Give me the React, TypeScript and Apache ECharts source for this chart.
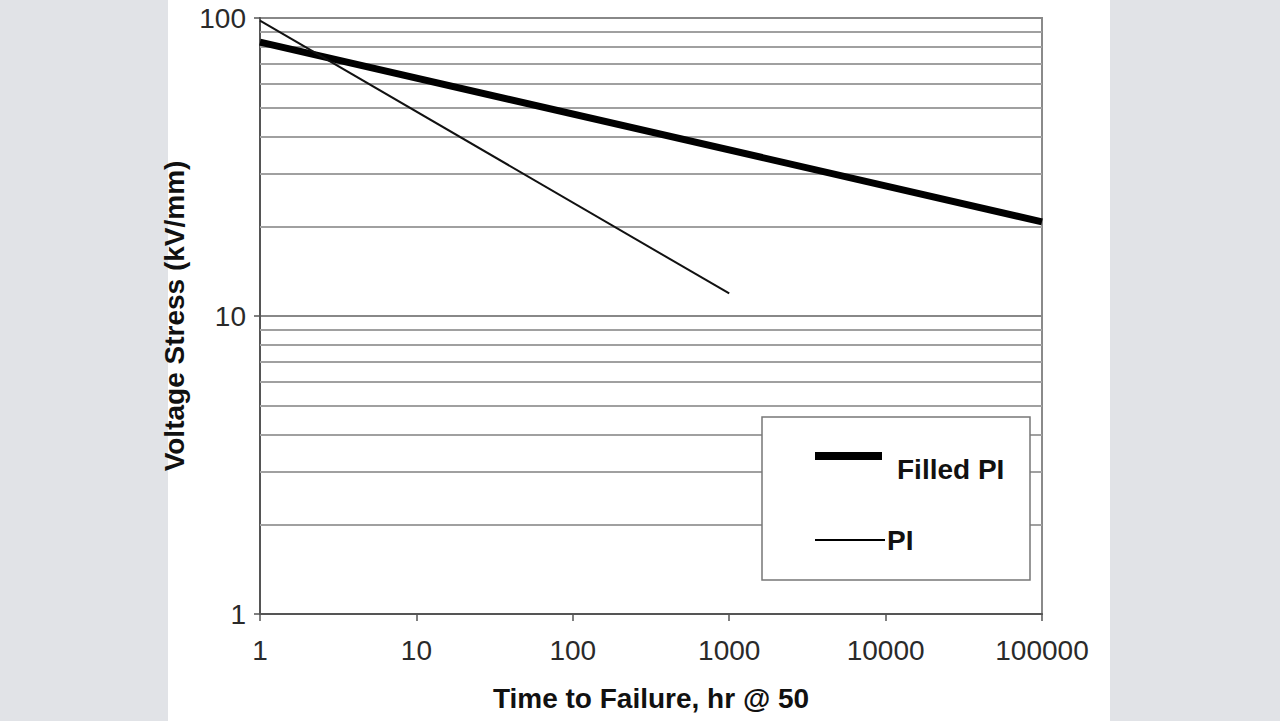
import React, { useEffect, useRef } from "react";
import * as echarts from "echarts";

const seriesNames = ["Filled PI", "PI"];
const filledPI: [number, number][] = [
  [1, 83],
  [100000, 20.7],
];
const pi: [number, number][] = [
  [1, 98],
  [1000, 11.9],
];
const minorGridValues = [2, 3, 4, 5, 6, 7, 8, 9, 20, 30, 40, 50, 60, 70, 80, 90];
const xTitle = "Time to Failure, hr @ 50";
const yTitle = "Voltage Stress (kV/mm)";

export default function App() {
  const ref = useRef<HTMLDivElement>(null);
  useEffect(() => {
    if (!ref.current) return;
    const chart = echarts.init(ref.current, null, { renderer: "svg" });
    const font = "'Liberation Sans', Arial, Helvetica, sans-serif";
    const Z = 100;
    chart.setOption({
      animation: false,
      backgroundColor: "#e1e3e7",
      textStyle: { fontFamily: font },
      grid: {
        left: 260,
        top: 18,
        right: 238,
        bottom: 107,
        show: true,
        borderColor: "#8a8a8a",
        borderWidth: 2,
        backgroundColor: "#ffffff",
      },
      graphic: [
        {
          type: "rect",
          z: -10,
          silent: true,
          shape: { x: 168, y: 0, width: 942, height: 721 },
          style: { fill: "#ffffff" },
        },
        {
          type: "rect",
          z: Z,
          shape: { x: 762, y: 417, width: 268, height: 163 },
          style: { fill: "#ffffff", stroke: "#777777", lineWidth: 1.5 },
        },
        {
          type: "line",
          z: Z + 1,
          shape: { x1: 815, y1: 456, x2: 882, y2: 456 },
          style: { stroke: "#000000", lineWidth: 8 },
        },
        {
          type: "text",
          z: Z + 1,
          x: 897,
          y: 469,
          style: {
            text: seriesNames[0],
            font: `bold 28px ${font}`,
            fill: "#111111",
            verticalAlign: "middle",
            align: "left",
          },
        },
        {
          type: "line",
          z: Z + 1,
          shape: { x1: 815, y1: 540, x2: 885, y2: 540 },
          style: { stroke: "#000000", lineWidth: 2 },
        },
        {
          type: "text",
          z: Z + 1,
          x: 887,
          y: 540,
          style: {
            text: seriesNames[1],
            font: `bold 28px ${font}`,
            fill: "#111111",
            verticalAlign: "middle",
            align: "left",
          },
        },
      ],
      xAxis: {
        type: "log",
        logBase: 10,
        min: 1,
        max: 100000,
        name: xTitle,
        nameLocation: "middle",
        nameGap: 70,
        nameTextStyle: { fontSize: 28, fontWeight: "bold", color: "#111111", fontFamily: font },
        axisLine: { show: true, lineStyle: { color: "#555555", width: 2 } },
        axisTick: { show: true, length: 7, lineStyle: { color: "#555555", width: 1.5 } },
        axisLabel: {
          fontSize: 28,
          color: "#2a2a2a",
          margin: 22,
          fontFamily: font,
          formatter: (v: number) => String(Math.round(v)),
        },
        splitLine: { show: false },
      },
      yAxis: {
        type: "log",
        logBase: 10,
        min: 1,
        max: 100,
        name: yTitle,
        nameLocation: "middle",
        nameRotate: 90,
        nameGap: 54,
        nameTextStyle: { fontSize: 28, fontWeight: "bold", color: "#111111", fontFamily: font },
        axisLine: { show: true, lineStyle: { color: "#555555", width: 2 } },
        axisTick: { show: true, length: 6, lineStyle: { color: "#555555", width: 1.5 } },
        axisLabel: {
          fontSize: 28,
          color: "#2a2a2a",
          margin: 14,
          fontFamily: font,
          formatter: (v: number) => String(Math.round(v)),
        },
        splitLine: { show: true, lineStyle: { color: "#888888", width: 2 } },
      },
      series: [
        {
          name: "grid",
          type: "line",
          data: [],
          silent: true,
          z: 1,
          markLine: {
            silent: true,
            symbol: "none",
            z: 1,
            label: { show: false },
            lineStyle: { color: "#a0a0a0", width: 2, type: "solid" },
            data: minorGridValues.map((v) => ({ yAxis: v })),
          },
        },
        {
          name: seriesNames[0],
          type: "line",
          data: filledPI,
          showSymbol: false,
          lineStyle: { color: "#000000", width: 7 },
          z: 5,
        },
        {
          name: seriesNames[1],
          type: "line",
          data: pi,
          showSymbol: false,
          lineStyle: { color: "#111111", width: 2 },
          z: 6,
        },
      ],
    });
    return () => chart.dispose();
  }, []);
  return (
    <div
      ref={ref}
      style={{ position: "absolute", left: 0, top: 0, width: 1280, height: 721 }}
    />
  );
}
